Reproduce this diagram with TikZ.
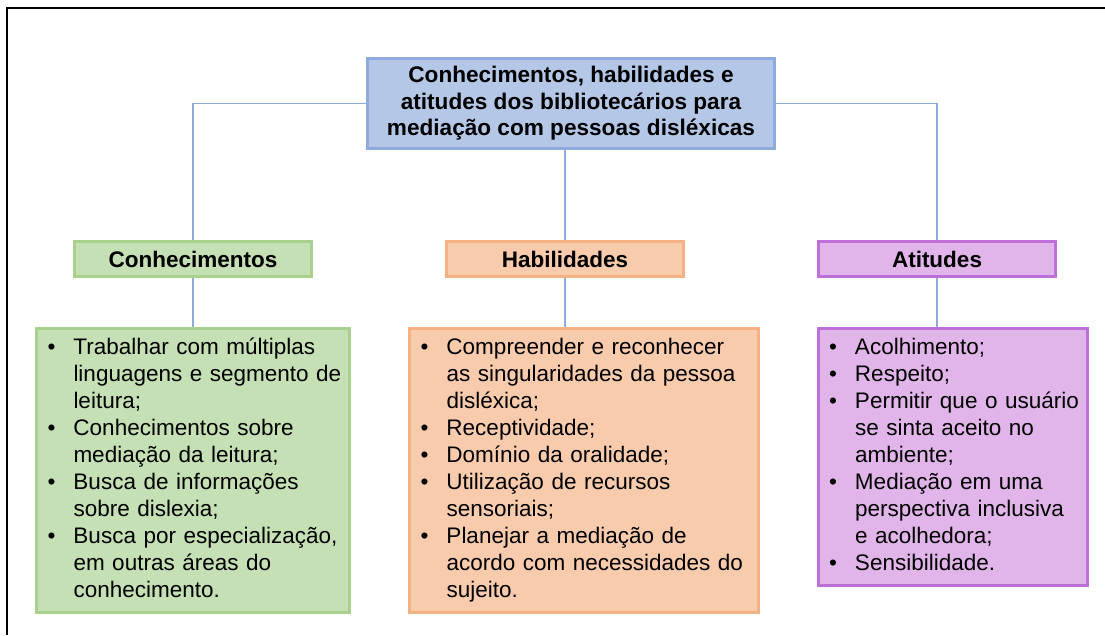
\documentclass[tikz,border=0pt]{standalone}
\usepackage{fontspec}
\setmainfont{Liberation Sans}

\definecolor{rootfill}{HTML}{B4C7E7}
\definecolor{rootline}{HTML}{8FAADC}
\definecolor{greenfill}{HTML}{C5E0B4}
\definecolor{greenline}{HTML}{A9D18E}
\definecolor{orangefill}{HTML}{F8CBAD}
\definecolor{orangeline}{HTML}{F4B183}
\definecolor{purplefill}{HTML}{E2B5EA}
\definecolor{purpleline}{HTML}{BF6FD8}

\tikzstyle{rootbox} = [draw=rootline, fill=rootfill, line width=3pt, minimum width=407pt, minimum height=90pt, align=center, font=\fontsize{22.6}{26.5}\selectfont\bfseries]
\tikzstyle{headbox} = [line width=3pt, minimum width=237pt, minimum height=35pt, inner sep=0pt, font=\fontsize{22.5}{26}\selectfont\bfseries]
\tikzstyle{listbox} = [line width=3pt, anchor=north, inner xsep=11pt, inner ysep=7pt, font=\fontsize{22.5}{27}\selectfont]

\newcommand{\blt}{\textbullet}
\newenvironment{bullist}{\begin{tabular}{@{}p{26pt}@{}l@{}}}{\end{tabular}}

\begin{document}
\begin{tikzpicture}[x=1pt, y=1pt,
    level 1/.style={sibling distance=372pt, level distance=155.5pt},
    level 2/.style={level distance=68pt,
      edge from parent path={(\tikzparentnode.south) -- (\tikzparentnode.south |- \tikzchildnode.north)}},
    edge from parent/.style={draw=rootline, line width=1.5pt}]
  \useasboundingbox (0,0) rectangle (1105,635);
  % frame
  \draw[line width=2pt] (7,0) -- (7,627) -- (1105,627);

  \node[rootbox] (root) at (571,531.5) {Conhecimentos, habilidades e\\
    atitudes dos bibliotecários para\\ mediação com pessoas disléxicas}
    child[xshift=-6pt, edge from parent path={(\tikzparentnode.west) -| (\tikzchildnode.north)}] {
      node[headbox, draw=greenline, fill=greenfill] (conh) {Conhecimentos}
      child {
        node[listbox, draw=greenline, fill=greenfill, text width=291pt] (conhlist) {
          \begin{bullist}
            \blt & Trabalhar com múltiplas\\
                 & linguagens e segmento de\\
                 & leitura;\\
            \blt & Conhecimentos sobre\\
                 & mediação da leitura;\\
            \blt & Busca de informações\\
                 & sobre dislexia;\\
            \blt & Busca por especialização,\\
                 & em outras áreas do\\
                 & conhecimento.
          \end{bullist}}
      }
    }
    child[xshift=-6pt, edge from parent path={(\tikzparentnode.south -| \tikzchildnode.north) -- (\tikzchildnode.north)}] {
      node[headbox, draw=orangeline, fill=orangefill] (habil) {Habilidades}
      child[xshift=19pt] {
        node[listbox, draw=orangeline, fill=orangefill, text width=327pt] (habillist) {
          \begin{bullist}
            \blt & Compreender e reconhecer\\
                 & as singularidades da pessoa\\
                 & disléxica;\\
            \blt & Receptividade;\\
            \blt & Domínio da oralidade;\\
            \blt & Utilização de recursos\\
                 & sensoriais;\\
            \blt & Planejar a mediação de\\
                 & acordo com necessidades do\\
                 & sujeito.
          \end{bullist}}
      }
    }
    child[xshift=-6pt, edge from parent path={(\tikzparentnode.east) -| (\tikzchildnode.north)}] {
      node[headbox, draw=purpleline, fill=purplefill] (atit) {Atitudes}
      child[xshift=15.5pt] {
        node[listbox, draw=purpleline, fill=purplefill, text width=247pt] (atitlist) {
          \begin{bullist}
            \blt & Acolhimento;\\
            \blt & Respeito;\\
            \blt & Permitir que o usuário\\
                 & se sinta aceito no\\
                 & ambiente;\\
            \blt & Mediação em uma\\
                 & perspectiva inclusiva\\
                 & e acolhedora;\\
            \blt & Sensibilidade.
          \end{bullist}}
      }
    };
\end{tikzpicture}
\end{document}
